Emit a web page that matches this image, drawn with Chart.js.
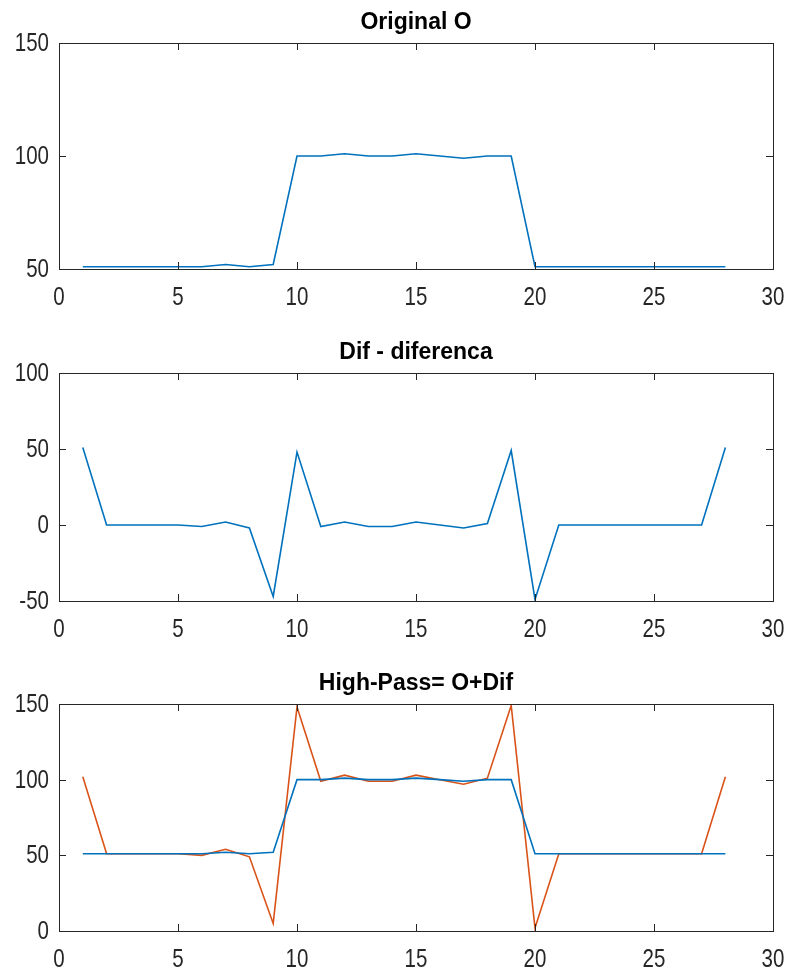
<!DOCTYPE html>
<html>
<head>
<meta charset="utf-8">
<script src="https://cdn.jsdelivr.net/npm/chart.js@4"></script>
<style>
  body { margin: 0; background: #fff; width: 794px; height: 971px; position: relative; overflow: hidden; }
  .box { position: absolute; left: 0; width: 794px; height: 310px; }
</style>
</head>
<body>
<div class="box" style="top:0px"><canvas id="c1"></canvas></div>
<div class="box" style="top:330px"><canvas id="c2"></canvas></div>
<div class="box" style="top:661px"><canvas id="c3"></canvas></div>
<script>
// sample index
const xs = [1,2,3,4,5,6,7,8,9,10,11,12,13,14,15,16,17,18,19,20,21,22,23,24,25,26,27,28];
// original signal O
const original = [51,51,51,51,51,51,52,51,52,100,100,101,100,100,101,100,99,100,100,51,51,51,51,51,51,51,51,51];
// Dif - diferenca
const dif = [51,0,0,0,0,-1,2,-2,-47,48,-1,2,-1,-1,2,0,-2,1,49,-49,0,0,0,0,0,0,0,51];
// High-pass = O + Dif
const highPass = [102,51,51,51,51,50,54,49,5,148,99,103,99,99,103,100,97,101,149,2,51,51,51,51,51,51,51,102];

const xTicks = [0,5,10,15,20,25,30];
const blue = '#0072BD', orange = '#D95319';
const txt = '#262626';
const fam = '"Liberation Sans", Arial, sans-serif';

function pts(vals){ return xs.map((x,i)=>({x:x, y:vals[i]})); }

// squeezed text, the tick font in the picture is narrow
function narrowText(ctx, s, x, y, align){
  const k = 0.82;
  ctx.save();
  ctx.translate(x, y);
  ctx.scale(k, 1);
  ctx.textAlign = align;
  ctx.fillText(s, 0, 0);
  ctx.restore();
}

// box + inward ticks + labels + title, MATLAB style
const matlabAxes = {
  id: 'matlabAxes',
  afterDraw(chart, args, opts){
    const ctx = chart.ctx, a = chart.chartArea;
    const sx = chart.scales.x, sy = chart.scales.y;
    ctx.save();
    ctx.strokeStyle = '#262626';
    ctx.lineWidth = 1;
    ctx.strokeRect(Math.round(a.left)+0.5, Math.round(a.top)+0.5, Math.round(a.right-a.left), Math.round(a.bottom-a.top));
    ctx.beginPath();
    sx.ticks.forEach(t=>{
      const p = Math.round(sx.getPixelForValue(t.value))+0.5;
      ctx.moveTo(p, a.bottom); ctx.lineTo(p, a.bottom-7);
      ctx.moveTo(p, a.top); ctx.lineTo(p, a.top+7);
    });
    sy.ticks.forEach(t=>{
      const p = Math.round(sy.getPixelForValue(t.value))+0.5;
      ctx.moveTo(a.left, p); ctx.lineTo(a.left+7, p);
      ctx.moveTo(a.right, p); ctx.lineTo(a.right-7, p);
    });
    ctx.stroke();

    ctx.fillStyle = txt;
    ctx.font = '25px ' + fam;
    ctx.textBaseline = 'middle';
    sx.ticks.forEach(t=>{
      narrowText(ctx, String(t.value), sx.getPixelForValue(t.value), a.bottom + 29, 'center');
    });
    sy.ticks.forEach(t=>{
      narrowText(ctx, String(t.value), a.left - 10, sy.getPixelForValue(t.value) + 1, 'right');
    });

    ctx.fillStyle = '#000';
    ctx.font = 'bold 23px ' + fam;
    ctx.textAlign = 'center';
    ctx.textBaseline = 'alphabetic';
    ctx.fillText(opts.text, (a.left+a.right)/2, a.top-14);
    ctx.restore();
  }
};

function makeChart(id, title, datasets, ymin, ymax, padBottom){
  new Chart(document.getElementById(id), {
    type: 'line',
    data: { datasets: datasets },
    options: {
      responsive: true,
      maintainAspectRatio: false,
      animation: false,
      layout: { padding: { top: 43, right: 21, bottom: padBottom, left: 0 } },
      elements: { point: { radius: 0 }, line: { tension: 0, borderWidth: 1.6 } },
      plugins: { legend: { display: false }, tooltip: { enabled: false }, matlabAxes: { text: title } },
      scales: {
        x: {
          type: 'linear', min: 0, max: 30,
          afterBuildTicks: s => { s.ticks = xTicks.map(v=>({value:v})); },
          afterFit: s => { s.height = 38; },
          grid: { display: false, drawTicks: false },
          border: { display: false },
          ticks: { display: false }
        },
        y: {
          min: ymin, max: ymax,
          ticks: { stepSize: 50, display: false },
          afterFit: s => { s.width = 59; },
          grid: { display: false, drawTicks: false },
          border: { display: false }
        }
      }
    },
    plugins: [matlabAxes]
  });
}

makeChart('c1', 'Original O', [
  { data: pts(original), borderColor: blue }
], 50, 150, 3);

makeChart('c2', 'Dif - diferenca', [
  { data: pts(dif), borderColor: blue }
], -50, 100, 1);

makeChart('c3', 'High-Pass= O+Dif', [
  { data: pts(original), borderColor: blue },
  { data: pts(highPass), borderColor: orange }
], 0, 150, 2);
</script>
</body>
</html>
